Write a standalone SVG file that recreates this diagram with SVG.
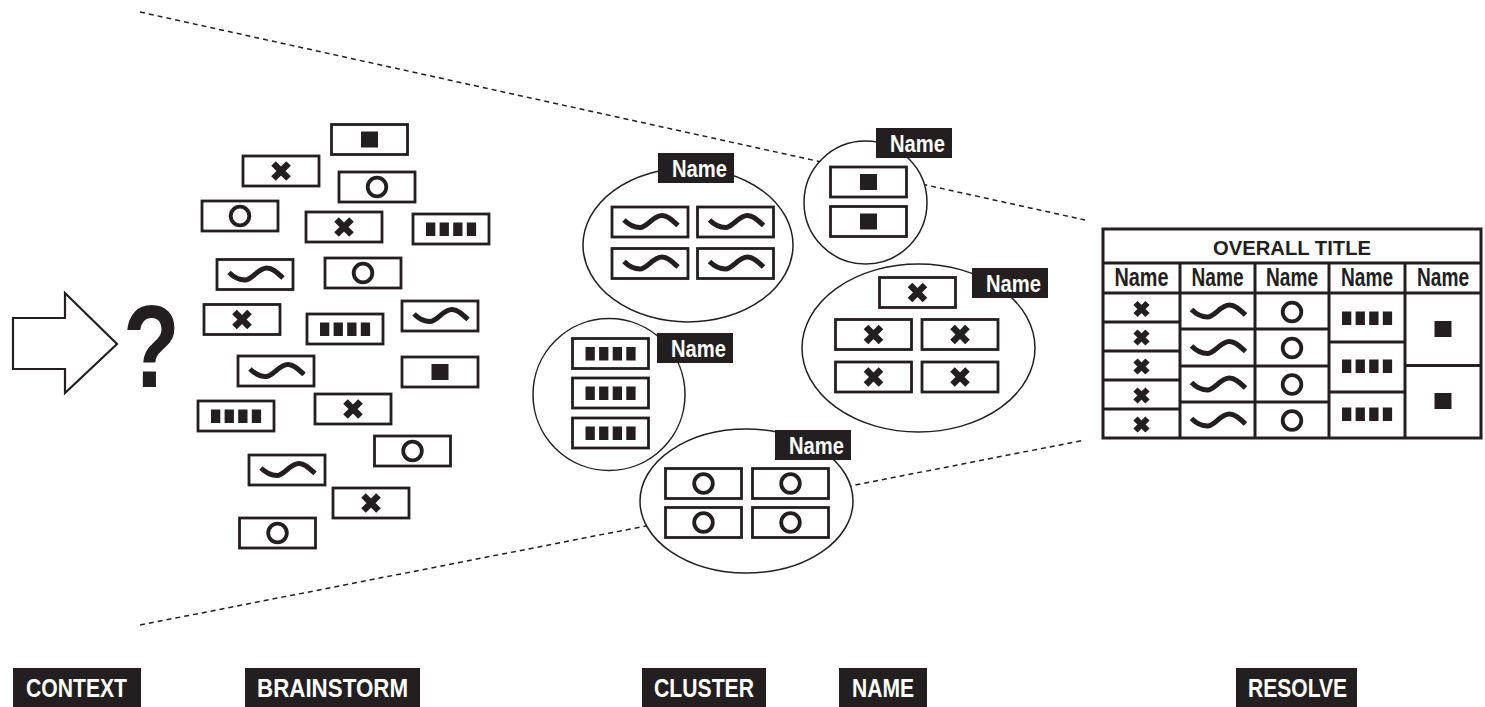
<svg xmlns="http://www.w3.org/2000/svg" xmlns:xlink="http://www.w3.org/1999/xlink" width="1485" height="707" viewBox="0 0 1485 707">
<style>
.card{fill:#fff;stroke:#231f20;stroke-width:2.8}
.ell{fill:#fff;stroke:#231f20;stroke-width:1.5}
.dash{fill:none;stroke:#231f20;stroke-width:1.5;stroke-dasharray:5 4}
.ink{fill:#231f20}
.xl{fill:none;stroke:#231f20;stroke-width:6.5}
.xs{fill:none;stroke:#231f20;stroke-width:6}
.ol{fill:none;stroke:#231f20;stroke-width:3.8}
.wv{fill:none;stroke:#231f20;stroke-width:5}
.tl{fill:none;stroke:#231f20;stroke-width:3}
.wt{fill:#fff;font-family:"Liberation Sans",Arial,sans-serif;font-weight:bold}
.bt{fill:#231f20;font-family:"Liberation Sans",Arial,sans-serif;font-weight:bold}
</style>
<defs>
<rect id="card" class="card" x="-38" y="-15" width="76" height="30"/>
<path id="ix" class="xl" d="M-7.5,-7.5L7.5,7.5M7.5,-7.5L-7.5,7.5"/>
<path id="ixs" class="xs" d="M-6,-6L6,6M6,-6L-6,6"/>
<circle id="io" class="ol" r="9.3"/>
<rect id="isq" class="ink" x="-8.5" y="-8" width="17" height="16"/>
<g id="ib" class="ink"><rect x="-25" y="-6.5" width="9.3" height="13.5"/><rect x="-11.4" y="-6.5" width="9.3" height="13.5"/><rect x="2.2" y="-6.5" width="9.3" height="13.5"/><rect x="15.8" y="-6.5" width="9.3" height="13.5"/></g>
<path id="iw" class="wv" d="M-26,-2C-20,4 -15,5.5 -10,5.5C-3,5.5 3,-6.5 12,-6.5C18,-6.5 23,-1 28,3.5"/>
</defs>
<rect width="1485" height="707" fill="#fff"/>

<g id="connectors">
<line class="dash" x1="140" y1="12" x2="1085" y2="220"/>
<line class="dash" x1="140" y1="625" x2="1085" y2="440"/>
</g>

<g id="context">
<polygon points="13,318 65,318 65,293 117,344 65,393 65,369 13,369" fill="#fff" stroke="#231f20" stroke-width="2.2"/>
<text class="bt" transform="translate(123,387) scale(0.8,1)" font-size="116">?</text>
</g>

<g id="brainstorm">
<g id="b1" transform="translate(369.5,139.5)"><use href="#card"/><use href="#isq"/></g>
<g id="b2" transform="translate(281,171)"><use href="#card"/><use href="#ix"/></g>
<g id="b3" transform="translate(377,187)"><use href="#card"/><use href="#io"/></g>
<g id="b4" transform="translate(240,216)"><use href="#card"/><use href="#io"/></g>
<g id="b5" transform="translate(344,227)"><use href="#card"/><use href="#ix"/></g>
<g id="b6" transform="translate(451,229)"><use href="#card"/><use href="#ib"/></g>
<g id="b7" transform="translate(255,274.5)"><use href="#card"/><use href="#iw"/></g>
<g id="b8" transform="translate(363,273)"><use href="#card"/><use href="#io"/></g>
<g id="b9" transform="translate(242,319.5)"><use href="#card"/><use href="#ix"/></g>
<g id="b10" transform="translate(345,329)"><use href="#card"/><use href="#ib"/></g>
<g id="b11" transform="translate(440,316)"><use href="#card"/><use href="#iw"/></g>
<g id="b12" transform="translate(276,371)"><use href="#card"/><use href="#iw"/></g>
<g id="b13" transform="translate(440,372)"><use href="#card"/><use href="#isq"/></g>
<g id="b14" transform="translate(236,416)"><use href="#card"/><use href="#ib"/></g>
<g id="b15" transform="translate(353,409)"><use href="#card"/><use href="#ix"/></g>
<g id="b16" transform="translate(412.5,451)"><use href="#card"/><use href="#io"/></g>
<g id="b17" transform="translate(287,470)"><use href="#card"/><use href="#iw"/></g>
<g id="b18" transform="translate(371,503)"><use href="#card"/><use href="#ix"/></g>
<g id="b19" transform="translate(277.5,533)"><use href="#card"/><use href="#io"/></g>
</g>

<g id="cluster-wave">
<ellipse class="ell" cx="688" cy="245" rx="105" ry="77"/>
<g transform="translate(650,222)"><use href="#card"/><use href="#iw"/></g>
<g transform="translate(735.5,222)"><use href="#card"/><use href="#iw"/></g>
<g transform="translate(650,263.5)"><use href="#card"/><use href="#iw"/></g>
<g transform="translate(735.5,263.5)"><use href="#card"/><use href="#iw"/></g>
<rect class="ink" x="658" y="153" width="76" height="30"/>
<text class="wt" x="672" y="177" font-size="23" textLength="55" lengthAdjust="spacingAndGlyphs">Name</text>
</g>

<g id="cluster-square">
<ellipse class="ell" cx="865.5" cy="202.5" rx="61.5" ry="61.5"/>
<g transform="translate(868.5,182)"><use href="#card"/><use href="#isq"/></g>
<g transform="translate(868.5,221.5)"><use href="#card"/><use href="#isq"/></g>
<rect class="ink" x="876" y="128" width="76" height="30"/>
<text class="wt" x="890" y="152" font-size="23" textLength="55" lengthAdjust="spacingAndGlyphs">Name</text>
</g>

<g id="cluster-cross">
<ellipse class="ell" cx="918.5" cy="348" rx="116.5" ry="84"/>
<g transform="translate(917.5,292.5)"><use href="#card"/><use href="#ix"/></g>
<g transform="translate(873.5,334.5)"><use href="#card"/><use href="#ix"/></g>
<g transform="translate(960,334.5)"><use href="#card"/><use href="#ix"/></g>
<g transform="translate(873.5,377)"><use href="#card"/><use href="#ix"/></g>
<g transform="translate(960,377)"><use href="#card"/><use href="#ix"/></g>
<rect class="ink" x="972" y="268" width="76" height="30"/>
<text class="wt" x="986" y="292" font-size="23" textLength="55" lengthAdjust="spacingAndGlyphs">Name</text>
</g>

<g id="cluster-bars">
<ellipse class="ell" cx="609" cy="394.5" rx="76" ry="76"/>
<g transform="translate(610.5,353.5)"><use href="#card"/><use href="#ib"/></g>
<g transform="translate(610.5,393)"><use href="#card"/><use href="#ib"/></g>
<g transform="translate(610.5,433)"><use href="#card"/><use href="#ib"/></g>
<rect class="ink" x="657" y="333" width="76" height="30"/>
<text class="wt" x="671" y="357" font-size="23" textLength="55" lengthAdjust="spacingAndGlyphs">Name</text>
</g>

<g id="cluster-circle">
<ellipse class="ell" cx="746.5" cy="501" rx="106.5" ry="72"/>
<g transform="translate(703.5,483.5)"><use href="#card"/><use href="#io"/></g>
<g transform="translate(790.5,483.5)"><use href="#card"/><use href="#io"/></g>
<g transform="translate(703.5,522.5)"><use href="#card"/><use href="#io"/></g>
<g transform="translate(790.5,522.5)"><use href="#card"/><use href="#io"/></g>
<rect class="ink" x="775" y="430" width="76" height="30"/>
<text class="wt" x="789" y="454" font-size="23" textLength="55" lengthAdjust="spacingAndGlyphs">Name</text>
</g>

<g id="table">
<rect x="1103" y="229" width="378" height="209" fill="#fff" stroke="#231f20" stroke-width="3"/>
<line class="tl" x1="1103" y1="263" x2="1481" y2="263"/>
<line class="tl" x1="1103" y1="293" x2="1481" y2="293"/>
<line class="tl" x1="1180" y1="263" x2="1180" y2="438"/>
<line class="tl" x1="1255" y1="263" x2="1255" y2="438"/>
<line class="tl" x1="1329" y1="263" x2="1329" y2="438"/>
<line class="tl" x1="1405" y1="263" x2="1405" y2="438"/>
<line class="tl" x1="1103" y1="322" x2="1180" y2="322"/>
<line class="tl" x1="1103" y1="351" x2="1180" y2="351"/>
<line class="tl" x1="1103" y1="380" x2="1180" y2="380"/>
<line class="tl" x1="1103" y1="409" x2="1180" y2="409"/>
<line class="tl" x1="1180" y1="329" x2="1329" y2="329"/>
<line class="tl" x1="1180" y1="366" x2="1329" y2="366"/>
<line class="tl" x1="1180" y1="402" x2="1329" y2="402"/>
<line class="tl" x1="1329" y1="342" x2="1405" y2="342"/>
<line class="tl" x1="1329" y1="392" x2="1405" y2="392"/>
<line class="tl" x1="1405" y1="365.5" x2="1481" y2="365.5"/>
<text class="bt" x="1292" y="255" font-size="19.5" text-anchor="middle" textLength="158" lengthAdjust="spacingAndGlyphs">OVERALL TITLE</text>
<text class="bt" x="1141.5" y="286" font-size="25" text-anchor="middle" textLength="54" lengthAdjust="spacingAndGlyphs">Name</text>
<text class="bt" x="1217.5" y="286" font-size="25" text-anchor="middle" textLength="52" lengthAdjust="spacingAndGlyphs">Name</text>
<text class="bt" x="1292" y="286" font-size="25" text-anchor="middle" textLength="52" lengthAdjust="spacingAndGlyphs">Name</text>
<text class="bt" x="1367" y="286" font-size="25" text-anchor="middle" textLength="52" lengthAdjust="spacingAndGlyphs">Name</text>
<text class="bt" x="1443" y="286" font-size="25" text-anchor="middle" textLength="52" lengthAdjust="spacingAndGlyphs">Name</text>
<use href="#ixs" x="1141.5" y="309"/>
<use href="#ixs" x="1141.5" y="337.5"/>
<use href="#ixs" x="1141.5" y="366.5"/>
<use href="#ixs" x="1141.5" y="395.5"/>
<use href="#ixs" x="1141.5" y="424.5"/>
<use href="#iw" x="1217.5" y="311.5"/>
<use href="#iw" x="1217.5" y="348"/>
<use href="#iw" x="1217.5" y="384.5"/>
<use href="#iw" x="1217.5" y="420.5"/>
<use href="#io" x="1292" y="312"/>
<use href="#io" x="1292" y="348"/>
<use href="#io" x="1292" y="384.5"/>
<use href="#io" x="1292" y="420.5"/>
<use href="#ib" x="1367" y="318"/>
<use href="#ib" x="1367" y="366"/>
<use href="#ib" x="1367" y="414"/>
<use href="#isq" x="1443" y="329"/>
<use href="#isq" x="1443" y="401"/>
</g>

<g id="stage-labels">
<g id="lbl-context"><rect class="ink" x="13" y="668" width="128" height="39"/><text class="wt" x="26" y="697" font-size="25" textLength="101" lengthAdjust="spacingAndGlyphs">CONTEXT</text></g>
<g id="lbl-brainstorm"><rect class="ink" x="245" y="668" width="175" height="39"/><text class="wt" x="257" y="697" font-size="25" textLength="151" lengthAdjust="spacingAndGlyphs">BRAINSTORM</text></g>
<g id="lbl-cluster"><rect class="ink" x="642" y="668" width="124" height="39"/><text class="wt" x="654" y="697" font-size="25" textLength="100" lengthAdjust="spacingAndGlyphs">CLUSTER</text></g>
<g id="lbl-name"><rect class="ink" x="839" y="668" width="88" height="39"/><text class="wt" x="852" y="697" font-size="25" textLength="62" lengthAdjust="spacingAndGlyphs">NAME</text></g>
<g id="lbl-resolve"><rect class="ink" x="1236" y="668" width="121" height="39"/><text class="wt" x="1248" y="697" font-size="25" textLength="99" lengthAdjust="spacingAndGlyphs">RESOLVE</text></g>
</g>
</svg>
